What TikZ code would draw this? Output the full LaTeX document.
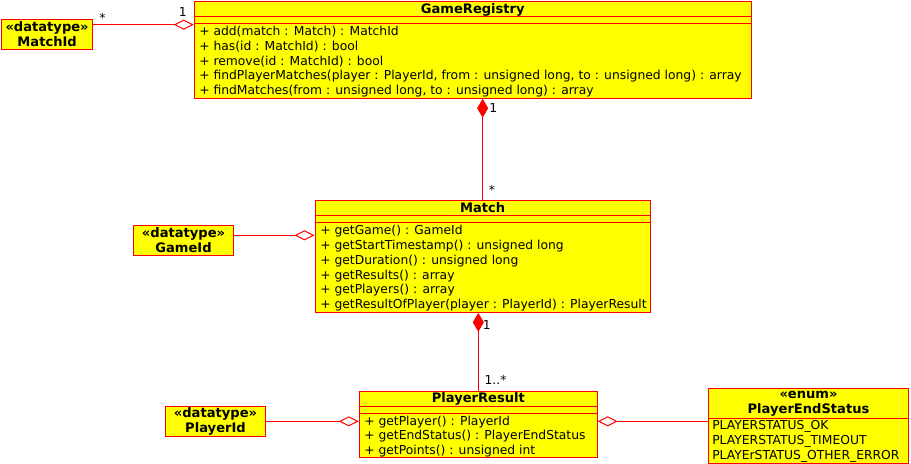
\documentclass[tikz,border=0pt]{standalone}
\usepackage{fontspec}
\setmainfont{DejaVu Sans}
\usepackage{xcolor}
\usepackage{tikz}
\usetikzlibrary{
  arrows.meta,
  positioning,
  calc,
  fit,
}
\definecolor{umlRed}{HTML}{FF0000}
\definecolor{umlYellow}{HTML}{FFFF00}
\newcommand{\umlfont}{\fontsize{9.25}{11.25}\selectfont}
\newcommand{\umlbold}{\fontsize{9.8}{11.25}\selectfont\bfseries}

\begin{document}
\begin{tikzpicture}[x=0.75pt, y=-0.75pt,
  cls/.style={draw=umlRed, fill=umlYellow, line width=0.75pt, inner sep=0pt},
  dtype/.style={cls, font=\umlbold, align=center, minimum height=22.5pt},
  clsname/.style={font=\umlbold, align=center, inner sep=0pt},
  op/.style={font=\umlfont, anchor=west, inner sep=0pt},
  mult/.style={font=\umlfont, anchor=base, inner sep=0pt},
  cmpline/.style={draw=umlRed, line width=0.75pt},
  agg/.style={draw=umlRed, line width=0.75pt, -{Diamond[open, length=15pt, width=7.5pt]}},
  comp/.style={draw=umlRed, line width=0.75pt, -{Diamond[length=14.25pt, width=8.25pt]}},
]
  \useasboundingbox (0,0) rectangle (911,464);

  % GameRegistry
  \node[cls, fit={(194.3,1.7) (751.3,98.2)}] (reg) {};
  \draw[cmpline] (reg.west |- 0,16) -- (reg.east |- 0,16);
  \draw[cmpline] (reg.west |- 0,23.3) -- (reg.east |- 0,23.3);
  \node[clsname] (reg-name) at (472.8,9.5) {GameRegistry};
  \foreach \t [count=\i] in {
      {+ add(match : Match) : MatchId},
      {+ has(id : MatchId) : bool},
      {+ remove(id : MatchId) : bool},
      {+ findPlayerMatches(player : PlayerId, from : unsigned long, to : unsigned long) : array},
      {+ findMatches(from : unsigned long, to : unsigned long) : array}} {
    \node[op] (reg-op\i) at (199,{31.8+14.7*(\i-1)}) {\t};
  }

  % Match
  \node[cls, fit={(315,200.3) (650.3,312.3)}] (match) {};
  \draw[cmpline] (match.west |- 0,215) -- (match.east |- 0,215);
  \draw[cmpline] (match.west |- 0,222.7) -- (match.east |- 0,222.7);
  \node[clsname] (match-name) at (482.7,208) {Match};
  \foreach \t [count=\i] in {
      {+ getGame() : GameId},
      {+ getStartTimestamp() : unsigned long},
      {+ getDuration() : unsigned long},
      {+ getResults() : array},
      {+ getPlayers() : array},
      {+ getResultOfPlayer(player : PlayerId) : PlayerResult}} {
    \node[op] (match-op\i) at (320,{231.3+14.8*(\i-1)}) {\t};
  }

  % PlayerResult
  \node[cls, fit={(359.3,391.3) (597.3,457.7)}] (pres) {};
  \draw[cmpline] (pres.west |- 0,406.3) -- (pres.east |- 0,406.3);
  \draw[cmpline] (pres.west |- 0,413.7) -- (pres.east |- 0,413.7);
  \node[clsname] (pres-name) at (478.3,399.3) {PlayerResult};
  \foreach \t [count=\i] in {
      {+ getPlayer() : PlayerId},
      {+ getEndStatus() : PlayerEndStatus},
      {+ getPoints() : unsigned int}} {
    \node[op] (pres-op\i) at (364,{421.8+14.7*(\i-1)}) {\t};
  }

  % PlayerEndStatus (enum)
  \node[cls, fit={(708.3,388.3) (908.7,463)}] (pes) {};
  \draw[cmpline] (pes.west |- 0,418.3) -- (pes.east |- 0,418.3);
  \node[clsname] (pes-name) at (808.5,403.5) {«enum»\\PlayerEndStatus};
  \foreach \t [count=\i] in {PLAYERSTATUS\_OK, PLAYERSTATUS\_TIMEOUT, PLAYErSTATUS\_OTHER\_ERROR} {
    \node[op] (pes-lit\i) at (712,{426.5+14.8*(\i-1)}) {\t};
  }

  % datatypes
  \node[dtype, minimum width=68.25pt] (mid) at (47.1,34.4) {«datatype»\\MatchId};
  \node[dtype, minimum width=75.3pt] (gid) at (183.5,240.3) {«datatype»\\GameId};
  \node[dtype, minimum width=75.3pt] (pid) at (215.5,421.3) {«datatype»\\PlayerId};

  % associations
  \draw[agg] (mid.east |- 0,24.7) -- (reg.west |- 0,24.7);
  \draw[comp] (match.north) -- (match.north |- reg.south);
  \draw[agg] (gid.east |- 0,235.3) -- (match.west |- 0,235.3);
  \draw[comp] (pres.north) -- (pres.north |- match.south);
  \draw[agg] (pid.east) -- (pid.east -| pres.west);
  \draw[agg] (pes.west |- pid.east) -- (pres.east |- pid.east);

  % multiplicities
  \node[mult] (mid-m) at (102.5,22) {*};
  \node[mult] (reg-m1) at (182.7,16.7) {1};
  \node[mult] (reg-m2) at (493.3,112.4) {1};
  \node[mult] (match-m1) at (492,194) {*};
  \node[mult] (match-m2) at (486.8,329) {1};
  \node[mult, anchor=base west] (pres-m) at (484.3,384) {1..*};
\end{tikzpicture}
\end{document}
